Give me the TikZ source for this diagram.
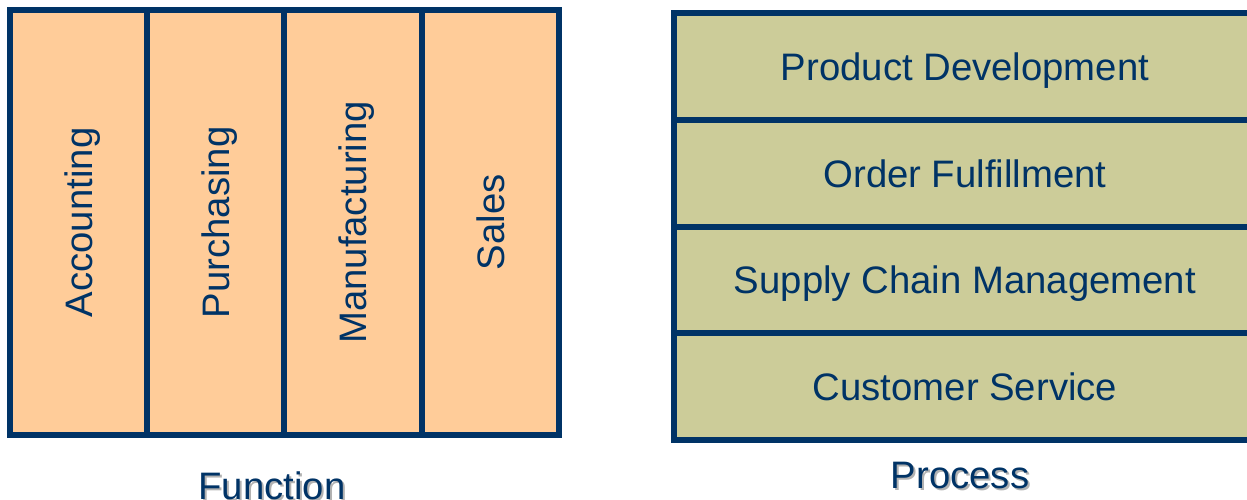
\documentclass[tikz,border=0pt]{standalone}
\usepackage{fontspec}
\setmainfont{Liberation Sans}
\definecolor{navy}{HTML}{003366}
\definecolor{peach}{HTML}{FFCC99}
\definecolor{khaki}{HTML}{CCCC99}
\newcommand{\shadowed}[1]{\rlap{\hspace{0.04cm}\raisebox{-0.04cm}{\color{black!30}#1}}#1}
\begin{document}
\begin{tikzpicture}[x=0.02cm, y=-0.02cm,
	cell/.style={draw=navy, line width=0.12cm, text=navy, inner sep=0pt, text depth=0pt, font=\fontsize{21.8}{26}\selectfont},
	funccell/.style={cell, fill=peach, rotate=90, minimum width=8.506cm, minimum height=2.745cm},
	proccell/.style={cell, fill=khaki, minimum width=11.64cm, minimum height=2.133cm},
	caption/.style={text=navy, anchor=base, font=\fontsize{21.8}{26}\selectfont}]
		\useasboundingbox (0,0) rectangle (1247,500);
		\clip (0,0) rectangle (1247,500);
		
		% Function - vertical columns
		\node[funccell] (acc) at (78.6,222.4) {Accounting};
		\node[funccell] (pur) at (215.9,222.4) {Purchasing};
		\node[funccell] (man) at (353.1,222.4) {Manufacturing};
		\node[funccell] (sal) at (490.4,222.4) {Sales};
		\node[caption] (func) at (272,499) {\shadowed{Function}};
		
		% Process - horizontal rows
		\node[proccell] (dev) at (965,66.8) {Product Development};
		\node[proccell] (ord) at (965,173.4) {Order Fulfillment};
		\node[proccell] (scm) at (965,280.0) {Supply Chain Management};
		\node[proccell] (cus) at (965,386.7) {Customer Service};
		\node[caption] (proc) at (960,488) {\shadowed{Process}};
	\end{tikzpicture}
\end{document}
